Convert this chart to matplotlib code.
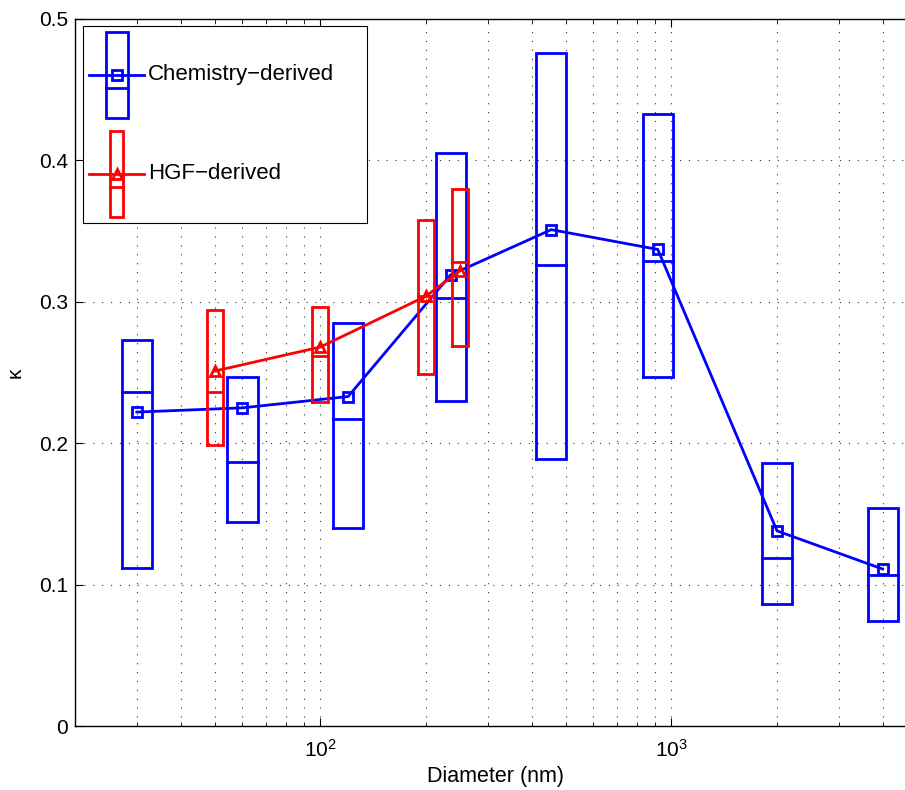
import numpy as np
import matplotlib
matplotlib.use("Agg")
import matplotlib.pyplot as plt
from matplotlib.legend_handler import HandlerBase
from matplotlib.lines import Line2D
from matplotlib.patches import Rectangle

plt.rcParams['font.family'] = ['Liberation Sans', 'DejaVu Sans']
plt.rcParams['mathtext.default'] = 'regular'

# chemistry-derived kappa (blue)
chem_d = [30, 60, 120, 235, 455, 915, 2000, 4000]
chem_mean = [0.222, 0.225, 0.233, 0.319, 0.351, 0.337, 0.138, 0.111]
chem_median = [0.236, 0.187, 0.217, 0.303, 0.326, 0.329, 0.119, 0.107]
chem_low = [0.112, 0.144, 0.140, 0.230, 0.189, 0.247, 0.086, 0.074]
chem_high = [0.273, 0.247, 0.285, 0.405, 0.476, 0.433, 0.186, 0.154]

# HGF-derived kappa (red)
hgf_d = [50, 100, 200, 250]
hgf_mean = [0.251, 0.268, 0.304, 0.322]
hgf_median = [0.236, 0.262, 0.304, 0.328]
hgf_low = [0.199, 0.229, 0.249, 0.269]
hgf_high = [0.294, 0.296, 0.358, 0.380]

yticks = [0, 0.1, 0.2, 0.3, 0.4, 0.5]
ytick_labels = ['0', '0.1', '0.2', '0.3', '0.4', '0.5']

BLUE = '#0000ff'
RED = '#ff0000'
LW = 2.0
GRID_LS = (0, (1, 7))


def draw_boxes(ax, d, low, high, med, color, f):
    for x, lo, hi, m in zip(d, low, high, med):
        xl, xr = x / f, x * f
        ax.plot([xl, xr, xr, xl, xl], [lo, lo, hi, hi, lo], color=color, lw=LW,
                solid_joinstyle='miter')
        ax.plot([xl, xr], [m, m], color=color, lw=LW)


class BoxKey:
    def __init__(self, color, marker, frac, msize):
        self.color = color
        self.marker = marker
        self.frac = frac
        self.msize = msize


class BoxHandler(HandlerBase):
    def create_artists(self, legend, h, xdescent, ydescent, width, height, fontsize, trans):
        x0, y0 = -xdescent, -ydescent
        cx = x0 + width / 2
        cy = y0 + height / 2
        bw = width * h.frac
        rect = Rectangle((cx - bw / 2, y0), bw, height, fill=False, ec=h.color, lw=LW,
                         transform=trans)
        med = Line2D([cx - bw / 2, cx + bw / 2], [cy - 0.15 * height] * 2, color=h.color,
                     lw=LW, transform=trans)
        line = Line2D([x0, x0 + width], [cy, cy], color=h.color, lw=LW, transform=trans)
        mk = Line2D([cx], [cy], marker=h.marker, ms=h.msize, mfc='none', mec=h.color,
                    mew=LW, color=h.color, transform=trans)
        return [rect, med, line, mk]


fig = plt.figure(figsize=(9.05, 7.9), dpi=100)
ax = fig.add_axes([0.0829, 0.081, 0.930, 0.895])

draw_boxes(ax, chem_d, chem_low, chem_high, chem_median, BLUE, 1.104)
ax.plot(chem_d, chem_mean, color=BLUE, lw=LW, marker='s', ms=6.5, mfc='none',
        mec=BLUE, mew=LW)
draw_boxes(ax, hgf_d, hgf_low, hgf_high, hgf_median, RED, 1.054)
ax.plot(hgf_d, hgf_mean, color=RED, lw=LW, marker='^', ms=7, mfc='none',
        mec=RED, mew=LW)

ax.set_xscale('log')
ax.set_xlim(20, 5000)
ax.set_ylim(0, 0.5)
ax.set_yticks(yticks, ytick_labels)
ax.grid(True, which='both', axis='x', color='#333333', linestyle=GRID_LS, lw=0.8)
ax.grid(True, which='major', axis='y', color='#333333', linestyle=GRID_LS, lw=0.8)
ax.tick_params(which='both', direction='in', top=True, right=True, labelsize=15)
ax.tick_params(axis='y', pad=5)
ax.tick_params(axis='x', pad=9)
ax.tick_params(which='major', length=6)
ax.tick_params(which='minor', length=3)
for s in ax.spines.values():
    s.set_linewidth(1.0)

ax.set_xlabel('Diameter (nm)', fontsize=15.5, labelpad=4)
ax.set_ylabel('κ', fontsize=15)
ax.yaxis.set_label_coords(-0.060, 0.5)

keys = [BoxKey(BLUE, 's', 0.4, 6.5), BoxKey(RED, '^', 0.24, 7)]
leg = ax.legend(keys, ['Chemistry−derived', 'HGF−derived'],
                handler_map={BoxKey: BoxHandler()},
                loc='upper left', bbox_to_anchor=(0.0095, 0.99, 0.3375, 0.0),
                mode='expand', fontsize=16, handlelength=2.48, handleheight=5.58,
                handletextpad=0.18, labelspacing=0.59, borderpad=0.27,
                borderaxespad=0.0, fancybox=False, framealpha=1.0,
                edgecolor='black')
leg.get_frame().set_linewidth(0.8)

fig.savefig('out.png', dpi=100)
